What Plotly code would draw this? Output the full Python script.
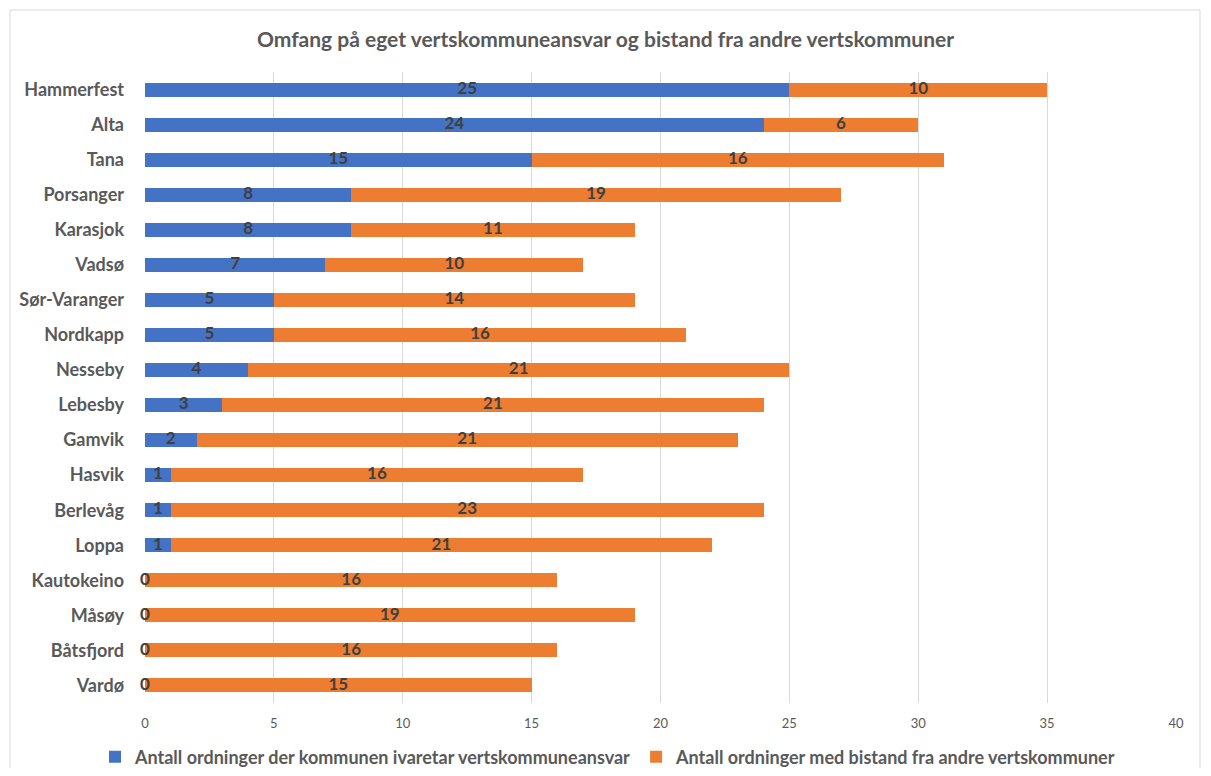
import plotly.graph_objects as go

kommuner = ["Hammerfest", "Alta", "Tana", "Porsanger", "Karasjok", "Vadsø", "Sør-Varanger",
            "Nordkapp", "Nesseby", "Lebesby", "Gamvik", "Hasvik", "Berlevåg", "Loppa",
            "Kautokeino", "Måsøy", "Båtsfjord", "Vardø"]
eget = [25, 24, 15, 8, 8, 7, 5, 5, 4, 3, 2, 1, 1, 1, 0, 0, 0, 0]
bistand = [10, 6, 16, 19, 11, 10, 14, 16, 21, 21, 21, 16, 23, 21, 16, 19, 16, 15]
x_ticks = [0, 5, 10, 15, 20, 25, 30, 35, 40]

name_eget = "Antall ordninger der kommunen ivaretar vertskommuneansvar"
name_bistand = "Antall ordninger med bistand fra andre vertskommuner"

FONT = "Lato"
GRAY = "#595959"
LABEL = "#404040"

W, H = 1195, 760
L, R, T, B = 137, 27, 64, 65
PW, PH = W - L - R, H - T - B

fig = go.Figure()
fig.add_trace(go.Bar(y=kommuner, x=eget, orientation="h", name=name_eget,
                     marker=dict(color="#4472C4", line=dict(width=0))))
fig.add_trace(go.Bar(y=kommuner, x=bistand, orientation="h", name=name_bistand,
                     marker=dict(color="#ED7D31", line=dict(width=0))))

# data labels
fig.add_trace(go.Scatter(y=kommuner, x=[v / 2 for v in eget], mode="text",
                         text=[str(v) for v in eget], showlegend=False, hoverinfo="skip",
                         cliponaxis=False,
                         textfont=dict(family=FONT, size=17, color=LABEL, weight="bold")))
fig.add_trace(go.Scatter(y=kommuner, x=[a + b / 2 for a, b in zip(eget, bistand)], mode="text",
                         text=[str(v) for v in bistand], showlegend=False, hoverinfo="skip",
                         cliponaxis=False,
                         textfont=dict(family=FONT, size=17, color=LABEL, weight="bold")))

fig.update_layout(
    width=W, height=H,
    barmode="stack", bargap=0.6,
    paper_bgcolor="white", plot_bgcolor="white",
    margin=dict(l=L, r=R, t=T, b=B, autoexpand=False),
    title=dict(text="Omfang på eget vertskommuneansvar og bistand fra andre vertskommuner",
               x=0.5, xanchor="center", y=1 - 32 / H, yanchor="middle",
               font=dict(family=FONT, size=21, color=GRAY, weight="bold")),
    legend=dict(orientation="h", xref="container", yref="container",
                x=600 / W, xanchor="center", y=1 - 749 / H, yanchor="middle",
                font=dict(family=FONT, size=18, color=GRAY, weight="bold"), traceorder="normal",
                itemwidth=30),
    showlegend=True,
)
fig.update_xaxes(range=[0, 40], tickvals=x_ticks, showgrid=True, gridcolor="#D9D9D9",
                 gridwidth=1, zeroline=False, showline=False,
                 ticks="outside", ticklen=8, tickcolor="rgba(0,0,0,0)",
                 tickfont=dict(family=FONT, size=13, color=GRAY))
fig.update_yaxes(categoryorder="array", categoryarray=kommuner, range=[len(kommuner) - 0.5, -0.5],
                 autorange=False,
                 showgrid=False, zeroline=False, showline=False, ticks="",
                 ticklabelstandoff=20,
                 tickfont=dict(family=FONT, size=18, color=GRAY, weight="bold"))

# chart border
fig.add_shape(type="rect", xref="paper", yref="paper",
              x0=(2 - L) / PW, x1=(1192 - L) / PW,
              y0=(T + PH - 764) / PH, y1=(T + PH - 2) / PH,
              line=dict(color="#D9D9D9", width=1), fillcolor="rgba(0,0,0,0)", layer="below")

fig.write_html("out.html")
